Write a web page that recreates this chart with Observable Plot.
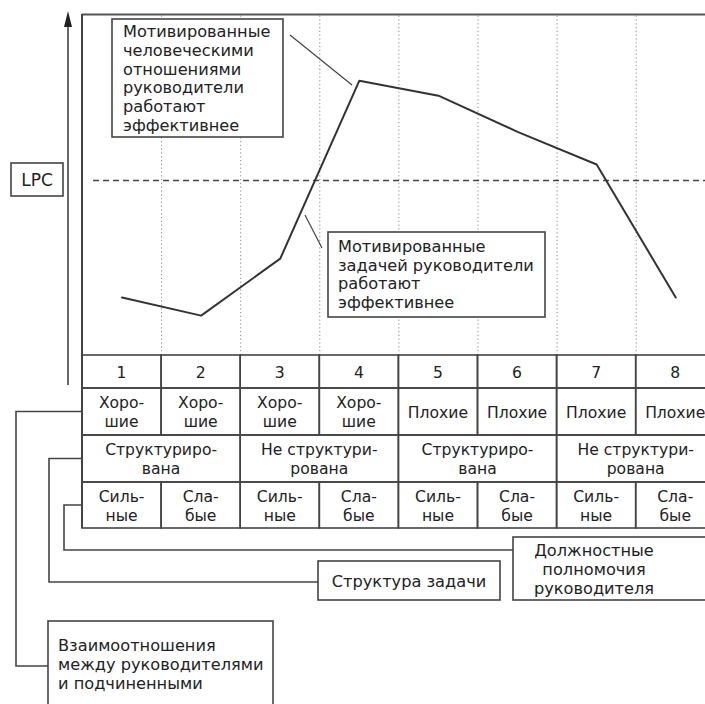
<!DOCTYPE html>
<html><head><meta charset="utf-8">
<script src="https://cdn.jsdelivr.net/npm/d3@7"></script>
<script src="https://cdn.jsdelivr.net/npm/@observablehq/plot@0.6"></script>
<style>
html,body{margin:0;padding:0;background:#fff}
svg{display:block}
</style>
</head><body><div id="chart"></div>
<script>
// ---- data ----
const situations = [1, 2, 3, 4, 5, 6, 7, 8];
const lpc = [17, 11.7, 28.4, 80.6, 76.2, 65.6, 56, 17];
const lpcThreshold = 51.3;
const relations = ["Хоро-\nшие", "Хоро-\nшие", "Хоро-\nшие", "Хоро-\nшие", "Плохие", "Плохие", "Плохие", "Плохие"];
const structure = ["Структуриро-\nвана", "Не структури-\nрована", "Структуриро-\nвана", "Не структури-\nрована"];
const power = ["Силь-\nные", "Сла-\nбые", "Силь-\nные", "Сла-\nбые", "Силь-\nные", "Сла-\nбые", "Силь-\nные", "Сла-\nбые"];
const yLabel = "LPC";
const noteHuman = "Мотивированные\nчеловеческими\nотношениями\nруководители\nработают\nэффективнее";
const noteTask = "Мотивированные\nзадачей руководители\nработают\nэффективнее";
const factorRelations = "Взаимоотношения\nмежду руководителями\nи подчиненными";
const factorStructure = "Структура задачи";
const factorPower = "Должностные\nполномочия\nруководителя";

// ---- layout ----
const W = 705, H = 704;
const plotLeft = 82, colW = 79.1, plotTop = 14, plotBottom = 355;
const rowEdges = [355, 388, 435, 482, 528];
const ink = "#444", textInk = "#222";
const font = "'DejaVu Sans', sans-serif";
const noteSize = 16.2, cellSize = 15.6;

const plot = Plot.plot({
  width: W, height: H, margin: 0,
  x: {domain: [0, 8], range: [plotLeft, plotLeft + 8 * colW], axis: null},
  y: {domain: [0, 100], range: [plotBottom, plotTop], axis: null},
  style: {fontFamily: font, background: "#fff"},
  marks: [
    Plot.ruleX(situations.slice(0, 7), {x: d => d, y1: 0, y2: 100, stroke: "#888", strokeWidth: 1, strokeDasharray: "1.2,2.6"}),
    Plot.ruleY([lpcThreshold], {x1: 0.14, x2: 8, stroke: ink, strokeWidth: 1.4, strokeDasharray: "6,4"}),
    Plot.line(situations, {x: d => d - 0.5, y: (d, i) => lpc[i], stroke: "#333", strokeWidth: 2}),
    Plot.ruleY([100], {x1: 0, x2: 8, stroke: "#555", strokeWidth: 2})
  ]
});

const svg = d3.select(plot);
const xs = plot.scale("x");
const X = v => xs.apply(v);

function multiText(g, str, x, yCenter, lineH, anchor, size) {
  const lines = str.split("\n");
  const y0 = yCenter - (lines.length - 1) * lineH / 2;
  lines.forEach((ln, i) => {
    g.append("text").attr("x", x).attr("y", y0 + i * lineH)
      .attr("text-anchor", anchor).attr("dominant-baseline", "central")
      .attr("font-family", font).attr("font-size", size).attr("fill", textInk)
      .text(ln);
  });
}
function box(g, x1, y1, x2, y2) {
  g.append("rect").attr("x", x1).attr("y", y1).attr("width", x2 - x1).attr("height", y2 - y1)
    .attr("fill", "#fff").attr("stroke", ink).attr("stroke-width", 1.6);
}
function path(g, pts, w) {
  g.append("path").attr("d", d3.line()(pts)).attr("fill", "none").attr("stroke", ink).attr("stroke-width", w || 1.6);
}

const g = svg.append("g");

// table
const rowMid = i => (rowEdges[i] + rowEdges[i + 1]) / 2;
const rows = [
  {vals: situations.map(String), span: 1},
  {vals: relations, span: 1},
  {vals: structure, span: 2},
  {vals: power, span: 1}
];
rows.forEach((r, ri) => {
  r.vals.forEach((v, ci) => {
    const a = ci * r.span, b = a + r.span;
    g.append("rect").attr("x", X(a)).attr("y", rowEdges[ri]).attr("width", X(b) - X(a))
      .attr("height", rowEdges[ri + 1] - rowEdges[ri]).attr("fill", "none")
      .attr("stroke", ink).attr("stroke-width", 1.6);
    multiText(g, v, (X(a) + X(b)) / 2, rowMid(ri) + 1, 19, "middle", cellSize);
  });
});
// left frame line
path(g, [[X(0), plotTop], [X(0), rowEdges[4]]], 2);

// vertical axis arrow
path(g, [[68, 385], [68, 24]], 1.6);
g.append("path").attr("d", "M68,11 L64,27 L72,27 Z").attr("fill", "#222");

// LPC label
box(g, 11, 163, 63, 196);
multiText(g, yLabel, 37, 180, 18, "middle", 17);

// notes
path(g, [[290, 35], [352, 85]], 1.2);
box(g, 112, 19, 283, 137);
multiText(g, noteHuman, 123, 78.5, 18.7, "start", noteSize);
path(g, [[305, 215], [322, 248]], 1.2);
box(g, 328, 232, 545, 317);
multiText(g, noteTask, 338, 274.5, 18.7, "start", noteSize);

// brackets
path(g, [[X(0), rowMid(1)], [16, rowMid(1)], [16, 666], [48, 666]]);
path(g, [[X(0), rowMid(2)], [49, rowMid(2)], [49, 582], [318, 582]]);
path(g, [[X(0), rowMid(3)], [64, rowMid(3)], [64, 550], [513, 550]]);

box(g, 513, 537, 712, 600);
multiText(g, factorPower, 594, 569, 19, "middle", noteSize);
box(g, 318, 561, 500, 600);
multiText(g, factorStructure, 409, 581, 19, "middle", noteSize);
box(g, 48, 621, 273, 712);
multiText(g, factorRelations, 58, 664, 19, "start", noteSize);

document.getElementById("chart").append(plot);
</script>
</body></html>
